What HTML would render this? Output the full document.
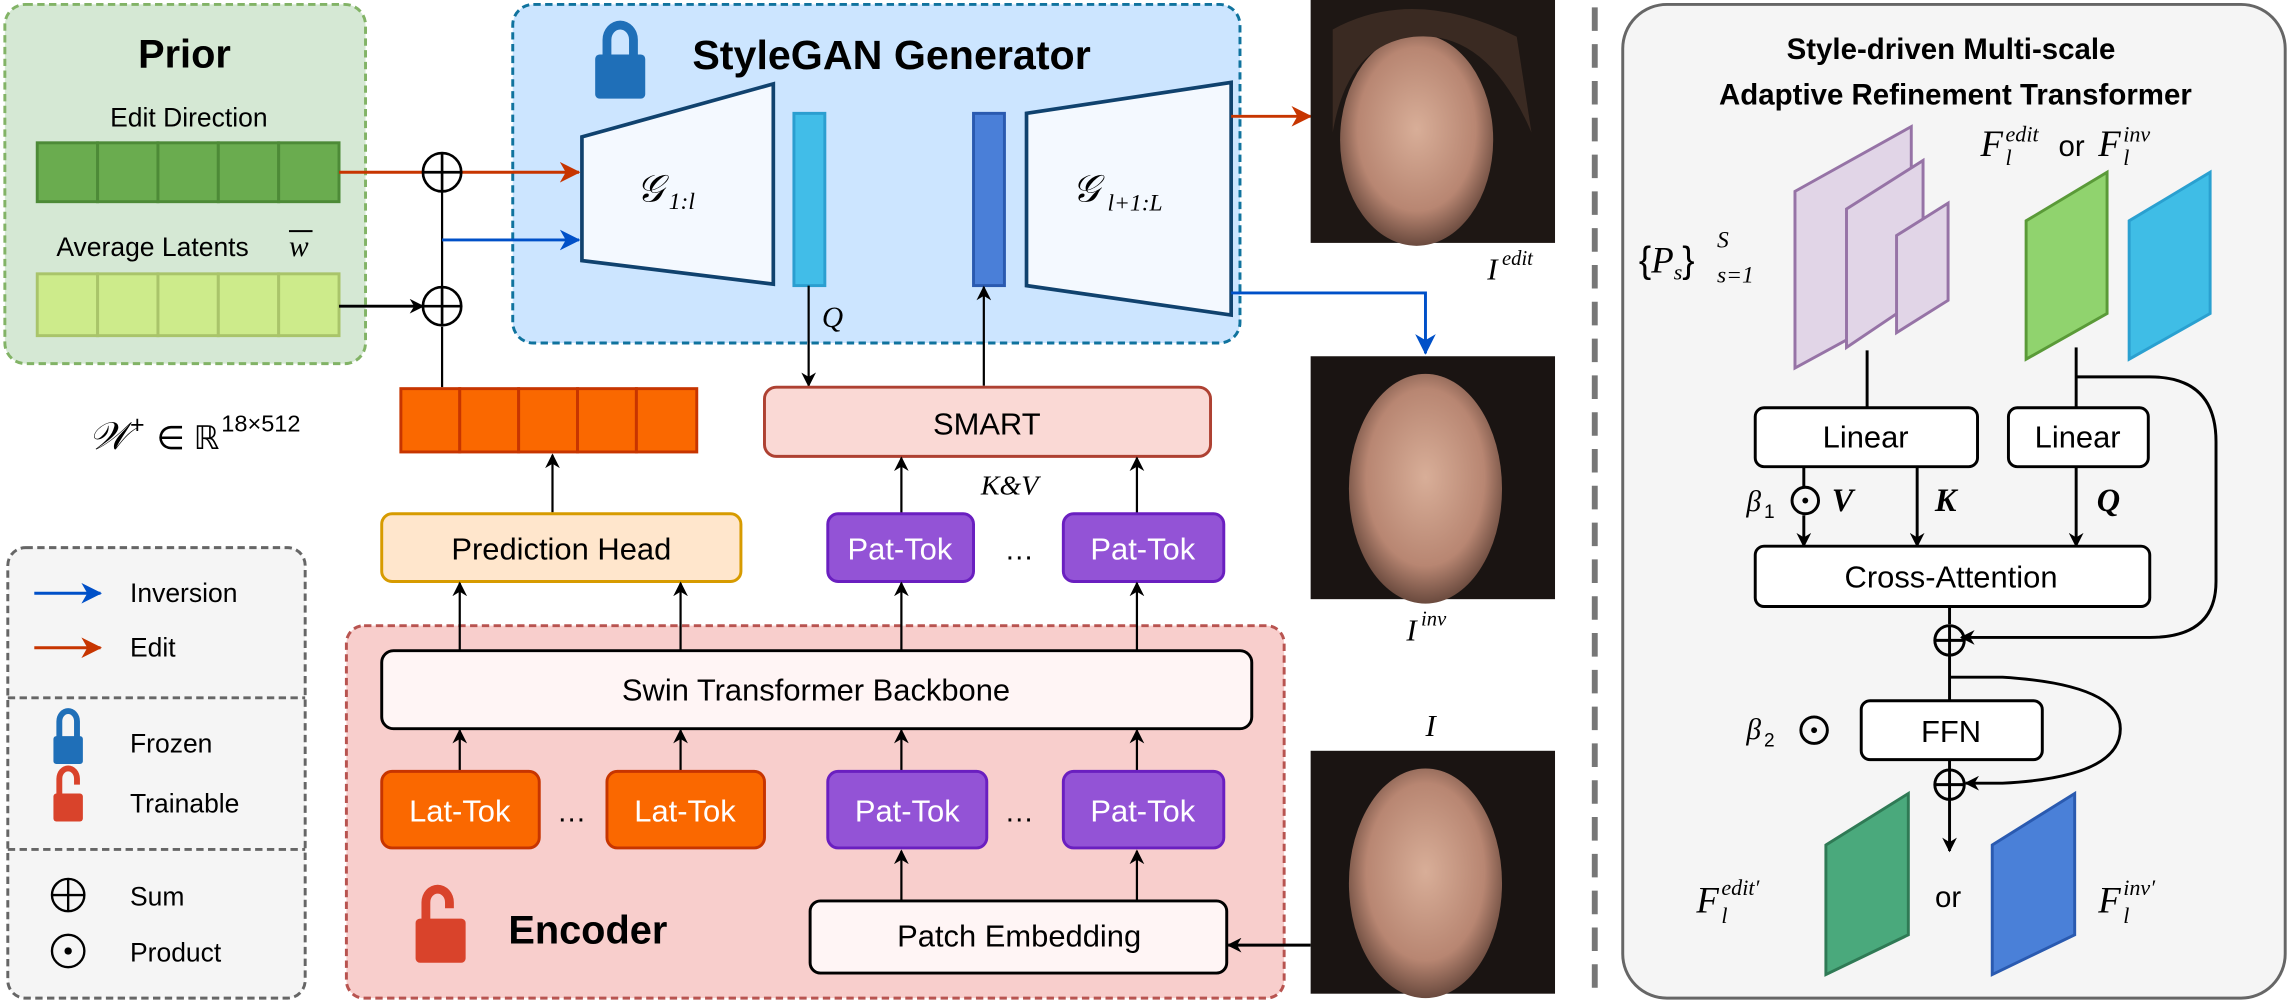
<!DOCTYPE html>
<html><head><meta charset="utf-8"><style>
html,body{margin:0;padding:0;background:#fff;}
svg{display:block;}
text{font-family:"Liberation Sans",sans-serif;}
.m{font-family:"Liberation Serif",serif;font-style:italic;}
</style></head><body>
<svg width="2293" height="1004" viewBox="0 0 1557 682" xmlns="http://www.w3.org/2000/svg">
<defs>
<marker id="ak" markerWidth="10" markerHeight="10" refX="9" refY="5" orient="auto" markerUnits="userSpaceOnUse"><path d="M0,0 L10,5 L0,10 L3,5 Z" fill="#000"/></marker>
<marker id="ar" markerWidth="14" markerHeight="14" refX="13" refY="7" orient="auto" markerUnits="userSpaceOnUse"><path d="M0,0 L14,7 L0,14 L4,7 Z" fill="#c73500"/></marker>
<marker id="ab" markerWidth="14" markerHeight="14" refX="13" refY="7" orient="auto" markerUnits="userSpaceOnUse"><path d="M0,0 L14,7 L0,14 L4,7 Z" fill="#0050c8"/></marker>
<radialGradient id="fg" cx="50%" cy="45%" r="55%"><stop offset="0" stop-color="#d8ae98"/><stop offset="0.7" stop-color="#b88672"/><stop offset="1" stop-color="#6a4a3e"/></radialGradient>
</defs>

<!-- Prior -->
<rect x="3" y="3" width="245" height="244" rx="14" fill="#d5e8d4" stroke="#82b366" stroke-width="2" stroke-dasharray="5,3"/>
<text x="125" y="46" font-size="27" font-weight="bold" text-anchor="middle">Prior</text>
<text x="128" y="86" font-size="18" text-anchor="middle">Edit Direction</text>
<g fill="#6aac4f" stroke="#4d8a37" stroke-width="2">
<rect x="25" y="97" width="41" height="40"/><rect x="66" y="97" width="41" height="40"/><rect x="107" y="97" width="41" height="40"/><rect x="148" y="97" width="41" height="40"/><rect x="189" y="97" width="41" height="40"/></g>
<text x="38" y="174" font-size="18">Average Latents</text>
<text x="196" y="174" font-size="20" class="m">w</text><line x1="196" y1="157" x2="212" y2="157" stroke="#000" stroke-width="1.3"/>
<g fill="#cdeb8b" stroke="#a9c46a" stroke-width="2">
<rect x="25" y="186" width="41" height="42"/><rect x="66" y="186" width="41" height="42"/><rect x="107" y="186" width="41" height="42"/><rect x="148" y="186" width="41" height="42"/><rect x="189" y="186" width="41" height="42"/></g>

<!-- StyleGAN -->
<rect x="348" y="3" width="494" height="230" rx="14" fill="#cce5ff" stroke="#10739e" stroke-width="2" stroke-dasharray="5,3"/>
<g fill="#1f6fb8"><rect x="404" y="37" width="34" height="30" rx="3"/><path d="M409,38 V27 a12,13 0 0 1 24,0 V38 h-6 V27 a6,7 0 0 0 -12,0 V38 Z"/></g>
<text x="470" y="47" font-size="28" font-weight="bold">StyleGAN Generator</text>
<polygon points="395,93 525,57 525,193 395,177" fill="#f4f9ff" stroke="#10426e" stroke-width="2.5"/>
<text x="432" y="137" font-size="26" class="m">𝒢</text><text x="454" y="142" font-size="16" class="m">1:l</text>
<rect x="539" y="77" width="21" height="117" fill="#41bde8" stroke="#2b9ed0" stroke-width="2"/>
<rect x="661" y="77" width="21" height="117" fill="#4a7fd8" stroke="#2a5ab0" stroke-width="2"/>
<polygon points="697,77 836,56 836,214 697,194" fill="#f4f9ff" stroke="#10426e" stroke-width="2.5"/>
<text x="728" y="137" font-size="26" class="m">𝒢</text><text x="752" y="143" font-size="16" class="m">l+1:L</text>
<line x1="836" y1="79" x2="890" y2="79" stroke="#c73500" stroke-width="2" marker-end="url(#ar)"/>
<polyline points="836,199 968,199 968,240" fill="none" stroke="#0050c8" stroke-width="2" marker-end="url(#ab)"/>
<line x1="549" y1="194" x2="549" y2="262" stroke="#000" stroke-width="1.5" marker-end="url(#ak)"/>
<text x="558" y="222" font-size="20" class="m">Q</text>
<line x1="668" y1="262" x2="668" y2="195" stroke="#000" stroke-width="1.5" marker-end="url(#ak)"/>

<!-- sums + lines -->
<line x1="230" y1="117" x2="287" y2="117" stroke="#c73500" stroke-width="2"/>
<line x1="313" y1="117" x2="393" y2="117" stroke="#c73500" stroke-width="2" marker-end="url(#ar)"/>
<line x1="300" y1="130" x2="300" y2="195" stroke="#000" stroke-width="1.5"/>
<line x1="300" y1="163" x2="393" y2="163" stroke="#0050c8" stroke-width="2" marker-end="url(#ab)"/>
<line x1="230" y1="208" x2="287" y2="208" stroke="#000" stroke-width="2" marker-end="url(#ak)"/>
<line x1="300" y1="222" x2="300" y2="263" stroke="#000" stroke-width="1.5"/>
<g fill="none" stroke="#000" stroke-width="1.8">
<circle cx="300" cy="117" r="13"/><line x1="287" y1="117" x2="313" y2="117"/><line x1="300" y1="104" x2="300" y2="130"/>
<circle cx="300" cy="208" r="13"/><line x1="287" y1="208" x2="313" y2="208"/><line x1="300" y1="195" x2="300" y2="221"/>
</g>

<!-- SMART -->
<rect x="519" y="263" width="303" height="47" rx="8" fill="#fad9d5" stroke="#ae4132" stroke-width="2"/>
<text x="670" y="295" font-size="21" text-anchor="middle">SMART</text>
<text x="666" y="336" font-size="19" class="m">K&amp;V</text>
<line x1="612" y1="349" x2="612" y2="311" stroke="#000" stroke-width="1.5" marker-end="url(#ak)"/>
<line x1="772" y1="349" x2="772" y2="311" stroke="#000" stroke-width="1.5" marker-end="url(#ak)"/>

<!-- W+ -->
<text x="60" y="305" font-size="26" class="m">𝒲</text><text x="88" y="294" font-size="17" font-family="Liberation Serif">+</text>
<text x="106" y="305" font-size="22" font-family="Liberation Serif">∈ ℝ</text><text x="150" y="293" font-size="16" font-family="Liberation Serif">18×512</text>
<g fill="#fa6800" stroke="#c73500" stroke-width="2">
<rect x="272" y="264" width="40" height="43"/><rect x="312" y="264" width="40" height="43"/><rect x="352" y="264" width="40" height="43"/><rect x="392" y="264" width="40" height="43"/><rect x="432" y="264" width="41" height="43"/></g>
<line x1="375" y1="348" x2="375" y2="309" stroke="#000" stroke-width="1.5" marker-end="url(#ak)"/>

<!-- Prediction Head and Pat-Tok -->
<rect x="259" y="349" width="244" height="46" rx="7" fill="#ffe6cc" stroke="#d79b00" stroke-width="2"/>
<text x="381" y="380" font-size="21" text-anchor="middle">Prediction Head</text>
<rect x="562" y="349" width="99" height="46" rx="7" fill="#9353d6" stroke="#6a1fc0" stroke-width="2"/>
<text x="611" y="380" font-size="21" fill="#fff" text-anchor="middle">Pat-Tok</text>
<text x="692" y="380" font-size="20" text-anchor="middle">…</text>
<rect x="722" y="349" width="109" height="46" rx="7" fill="#9353d6" stroke="#6a1fc0" stroke-width="2"/>
<text x="776" y="380" font-size="21" fill="#fff" text-anchor="middle">Pat-Tok</text>

<!-- Legend -->
<rect x="5" y="372" width="202" height="306" rx="12" fill="#f5f5f5" stroke="#666" stroke-width="2" stroke-dasharray="5,3"/>
<line x1="5" y1="474" x2="207" y2="474" stroke="#666" stroke-width="2" stroke-dasharray="5,3"/>
<line x1="5" y1="577" x2="207" y2="577" stroke="#666" stroke-width="2" stroke-dasharray="5,3"/>
<line x1="23" y1="403" x2="68" y2="403" stroke="#0050c8" stroke-width="2" marker-end="url(#ab)"/>
<text x="88" y="409" font-size="18">Inversion</text>
<line x1="23" y1="440" x2="68" y2="440" stroke="#c73500" stroke-width="2" marker-end="url(#ar)"/>
<text x="88" y="446" font-size="18">Edit</text>
<g fill="#1f6fb8"><rect x="36" y="500" width="20" height="19" rx="2"/><path d="M38,501 V490 a8,9 0 0 1 16,0 V501 h-4 V490 a4,5 0 0 0 -8,0 V501 Z"/></g>
<text x="88" y="511" font-size="18">Frozen</text>
<g fill="#d9432b"><rect x="36" y="539" width="20" height="19" rx="2"/><path d="M38,540 V529 a8,9 0 0 1 16,0 V533 h-4 V529 a4,5 0 0 0 -8,0 V540 Z"/></g>
<text x="88" y="552" font-size="18">Trainable</text>
<g fill="none" stroke="#000" stroke-width="1.6"><circle cx="46" cy="608" r="11"/><line x1="35" y1="608" x2="57" y2="608"/><line x1="46" y1="597" x2="46" y2="619"/><circle cx="46" cy="646" r="11"/></g>
<circle cx="46" cy="646" r="2.5"/>
<text x="88" y="615" font-size="18">Sum</text>
<text x="88" y="653" font-size="18">Product</text>

<!-- Encoder -->
<rect x="235" y="425" width="637" height="253" rx="12" fill="#f8cecc" stroke="#b85450" stroke-width="2" stroke-dasharray="5,3"/>
<g stroke="#000" stroke-width="1.5">
<line x1="312" y1="442" x2="312" y2="396" marker-end="url(#ak)"/>
<line x1="462" y1="442" x2="462" y2="396" marker-end="url(#ak)"/>
<line x1="612" y1="442" x2="612" y2="396" marker-end="url(#ak)"/>
<line x1="772" y1="442" x2="772" y2="396" marker-end="url(#ak)"/>
<line x1="312" y1="524" x2="312" y2="496" marker-end="url(#ak)"/>
<line x1="462" y1="524" x2="462" y2="496" marker-end="url(#ak)"/>
<line x1="612" y1="524" x2="612" y2="496" marker-end="url(#ak)"/>
<line x1="772" y1="524" x2="772" y2="496" marker-end="url(#ak)"/>
<line x1="612" y1="612" x2="612" y2="578" marker-end="url(#ak)"/>
<line x1="772" y1="612" x2="772" y2="578" marker-end="url(#ak)"/>
<line x1="890" y1="642" x2="834" y2="642" stroke-width="2" marker-end="url(#ak)"/>
</g>
<rect x="259" y="442" width="591" height="53" rx="8" fill="#fff5f5" stroke="#000" stroke-width="2"/>
<text x="554" y="476" font-size="21" text-anchor="middle">Swin Transformer Backbone</text>
<rect x="259" y="524" width="107" height="52" rx="7" fill="#fa6800" stroke="#c73500" stroke-width="2"/>
<text x="312" y="558" font-size="21" fill="#fff" text-anchor="middle">Lat-Tok</text>
<text x="388" y="558" font-size="20" text-anchor="middle">…</text>
<rect x="412" y="524" width="107" height="52" rx="7" fill="#fa6800" stroke="#c73500" stroke-width="2"/>
<text x="465" y="558" font-size="21" fill="#fff" text-anchor="middle">Lat-Tok</text>
<rect x="562" y="524" width="108" height="52" rx="7" fill="#9353d6" stroke="#6a1fc0" stroke-width="2"/>
<text x="616" y="558" font-size="21" fill="#fff" text-anchor="middle">Pat-Tok</text>
<text x="692" y="558" font-size="20" text-anchor="middle">…</text>
<rect x="722" y="524" width="109" height="52" rx="7" fill="#9353d6" stroke="#6a1fc0" stroke-width="2"/>
<text x="776" y="558" font-size="21" fill="#fff" text-anchor="middle">Pat-Tok</text>
<rect x="550" y="612" width="283" height="49" rx="7" fill="#fff5f5" stroke="#000" stroke-width="2"/>
<text x="692" y="643" font-size="21" text-anchor="middle">Patch Embedding</text>
<g fill="#d9432b"><rect x="282" y="624" width="34" height="30" rx="3"/><path d="M286,625 V613 a11,12 0 0 1 22,0 V617 h-6 V613 a5,6 0 0 0 -10,0 V625 Z"/></g>
<text x="345" y="641" font-size="27" font-weight="bold">Encoder</text>

<!-- Faces -->
<g>
<rect x="890" y="0" width="166" height="165" fill="#1e1714"/><ellipse cx="962" cy="95" rx="52" ry="72" fill="url(#fg)"/><path d="M905,20 Q960,-10 1030,25 L1040,90 Q1010,20 960,25 Q915,30 905,90 Z" fill="#3a2a22"/>
<rect x="890" y="242" width="166" height="165" fill="#1a1412"/><ellipse cx="968" cy="332" rx="52" ry="78" fill="url(#fg)"/>
<rect x="890" y="510" width="166" height="165" fill="#1a1412"/><ellipse cx="968" cy="600" rx="52" ry="78" fill="url(#fg)"/>
</g>
<text x="1010" y="190" font-size="21" class="m">I</text><text x="1020" y="180" font-size="14" class="m">edit</text>
<text x="955" y="435" font-size="21" class="m">I</text><text x="965" y="425" font-size="14" class="m">inv</text>
<text x="968" y="500" font-size="21" class="m">I</text>

<!-- divider -->
<line x1="1083" y1="5" x2="1083" y2="680" stroke="#777" stroke-width="4" stroke-dasharray="16,9"/>

<!-- Right panel -->
<rect x="1102" y="3" width="450" height="675" rx="30" fill="#f5f5f5" stroke="#666" stroke-width="2"/>
<text x="1325" y="40" font-size="20" font-weight="bold" text-anchor="middle" font-family="DejaVu Sans">Style-driven Multi-scale</text>
<text x="1328" y="71" font-size="20" font-weight="bold" text-anchor="middle" font-family="DejaVu Sans">Adaptive Refinement Transformer</text>
<g fill="#e1d5e7" stroke="#9673a6" stroke-width="2">
<polygon points="1219,130 1298,86 1298,207 1219,250"/>
<polygon points="1254,142 1306,109 1306,201 1254,236"/>
<polygon points="1288,160 1323,138 1323,204 1288,226"/>
</g>
<polygon points="1376,150 1431,117 1431,213 1376,244" fill="#90d36e" stroke="#5a9a38" stroke-width="2"/>
<polygon points="1446,150 1501,117 1501,213 1446,244" fill="#3fbde6" stroke="#2aa0d0" stroke-width="2"/>
<text x="1113" y="185" font-size="25" font-family="Liberation Serif">{<tspan class="m">P</tspan><tspan class="m" font-size="15" dy="5">s</tspan><tspan dy="-5">}</tspan></text>
<text x="1166" y="168" font-size="16" class="m">S</text><text x="1166" y="192" font-size="16" class="m">s=1</text>
<text x="1345" y="106" font-size="25" class="m">F</text><text x="1362" y="96" font-size="15" class="m">edit</text><text x="1362" y="112" font-size="15" class="m">l</text>
<text x="1398" y="106" font-size="20">or</text>
<text x="1425" y="106" font-size="25" class="m">F</text><text x="1442" y="96" font-size="15" class="m">inv</text><text x="1442" y="112" font-size="15" class="m">l</text>

<g stroke="#000" stroke-width="2" fill="none">
<line x1="1268" y1="238" x2="1268" y2="277"/>
<line x1="1410" y1="236" x2="1410" y2="277"/>
<path d="M1410,256 H1460 Q1505,256 1505,300 V395 Q1505,433 1460,433 H1332" marker-end="url(#ak)"/>
<line x1="1225" y1="317" x2="1225" y2="331"/>
<line x1="1225" y1="350" x2="1225" y2="371" marker-end="url(#ak)"/>
<line x1="1302" y1="317" x2="1302" y2="371" marker-end="url(#ak)"/>
<line x1="1410" y1="317" x2="1410" y2="371" marker-end="url(#ak)"/>
<line x1="1324" y1="413" x2="1324" y2="424"/>
<line x1="1324" y1="445" x2="1324" y2="524"/>
<path d="M1324,460 H1360 Q1440,465 1440,495 Q1440,528 1360,532 H1335" marker-end="url(#ak)"/>
<line x1="1324" y1="543" x2="1324" y2="578" marker-end="url(#ak)"/>
</g>
<rect x="1192" y="277" width="151" height="40" rx="6" fill="#fff" stroke="#000" stroke-width="2"/>
<text x="1267" y="304" font-size="21" text-anchor="middle">Linear</text>
<rect x="1364" y="277" width="95" height="40" rx="6" fill="#fff" stroke="#000" stroke-width="2"/>
<text x="1411" y="304" font-size="21" text-anchor="middle">Linear</text>
<text x="1186" y="347" font-size="20" class="m">β</text><text x="1198" y="352" font-size="13" font-family="Liberation Serif">1</text>
<circle cx="1226" cy="340" r="9" fill="none" stroke="#000" stroke-width="2"/><circle cx="1226" cy="340" r="2" fill="#000"/>
<text x="1244" y="347" font-size="22" class="m" font-weight="bold">V</text>
<text x="1314" y="347" font-size="22" class="m" font-weight="bold">K</text>
<text x="1424" y="347" font-size="22" class="m" font-weight="bold">Q</text>
<rect x="1192" y="371" width="268" height="41" rx="6" fill="#fff" stroke="#000" stroke-width="2"/>
<text x="1325" y="399" font-size="21" text-anchor="middle">Cross-Attention</text>
<g fill="none" stroke="#000" stroke-width="2">
<circle cx="1324" cy="435" r="10"/><line x1="1314" y1="435" x2="1334" y2="435"/><line x1="1324" y1="425" x2="1324" y2="445"/>
<circle cx="1324" cy="533" r="10"/><line x1="1314" y1="533" x2="1334" y2="533"/><line x1="1324" y1="523" x2="1324" y2="543"/>
<circle cx="1232" cy="496" r="9"/>
</g>
<circle cx="1232" cy="496" r="2" fill="#000"/>
<text x="1186" y="502" font-size="20" class="m">β</text><text x="1198" y="507" font-size="13" font-family="Liberation Serif">2</text>
<rect x="1264" y="476" width="123" height="40" rx="6" fill="#fff" stroke="#000" stroke-width="2"/>
<text x="1325" y="504" font-size="21" text-anchor="middle">FFN</text>
<polygon points="1240,574 1296,539 1296,635 1240,662" fill="#4aa97c" stroke="#2f7a55" stroke-width="2"/>
<polygon points="1353,574 1409,539 1409,635 1353,662" fill="#4a80d8" stroke="#2a5ab0" stroke-width="2"/>
<text x="1152" y="620" font-size="25" class="m">F</text><text x="1169" y="608" font-size="15" class="m">edit′</text><text x="1169" y="627" font-size="15" class="m">l</text>
<text x="1323" y="616" font-size="20" text-anchor="middle">or</text>
<text x="1425" y="620" font-size="25" class="m">F</text><text x="1442" y="608" font-size="15" class="m">inv′</text><text x="1442" y="627" font-size="15" class="m">l</text>
</svg>
</body></html>
